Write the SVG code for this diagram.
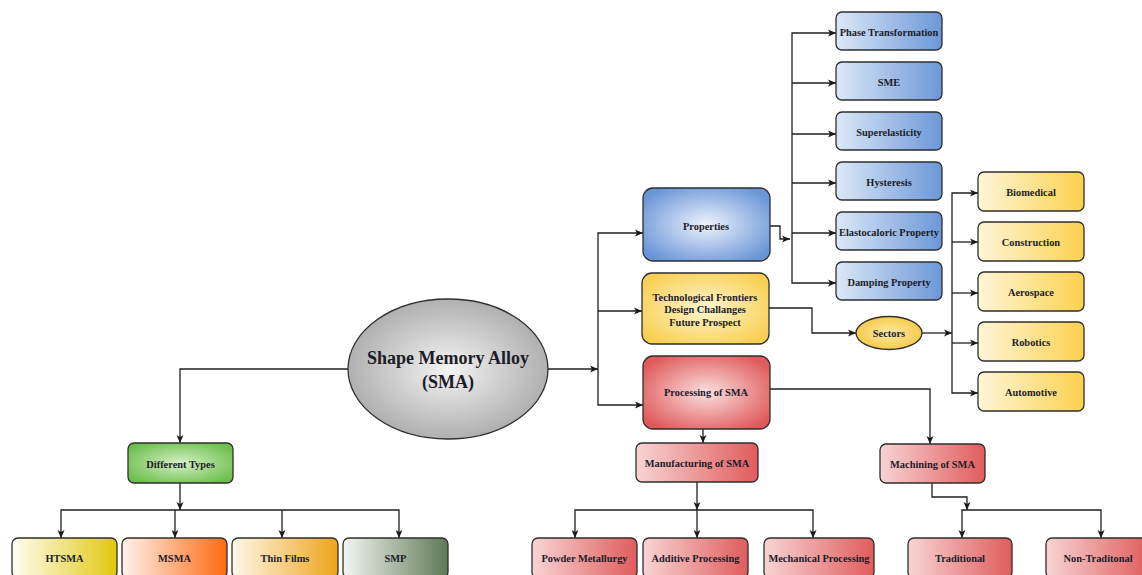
<svg xmlns="http://www.w3.org/2000/svg" width="1142" height="575" viewBox="0 0 1142 575">
<defs>
  <marker id="arr" markerUnits="userSpaceOnUse" markerWidth="9" markerHeight="8" refX="8" refY="4" orient="auto">
    <path d="M0,0.5 L8,4 L0,7.5 L2,4 z" fill="#1a1a1a"/>
  </marker>
  <radialGradient id="gSMA" cx="0.5" cy="0.5" r="0.55">
    <stop offset="0" stop-color="#f4f4f4"/>
    <stop offset="1" stop-color="#a9a9a9"/>
  </radialGradient>
  <radialGradient id="gProp" cx="0.5" cy="0.5" r="0.6">
    <stop offset="0" stop-color="#eef3fc"/>
    <stop offset="1" stop-color="#6a95d8"/>
  </radialGradient>
  <radialGradient id="gTech" cx="0.5" cy="0.5" r="0.6">
    <stop offset="0" stop-color="#fff6cf"/>
    <stop offset="1" stop-color="#f8cf52"/>
  </radialGradient>
  <radialGradient id="gProc" cx="0.5" cy="0.5" r="0.6">
    <stop offset="0" stop-color="#fbe0e0"/>
    <stop offset="1" stop-color="#e05a5a"/>
  </radialGradient>
  <radialGradient id="gSect" cx="0.5" cy="0.5" r="0.6">
    <stop offset="0" stop-color="#fde9a4"/>
    <stop offset="1" stop-color="#f5c53c"/>
  </radialGradient>
  <radialGradient id="gDT" cx="0.5" cy="0.5" r="0.6">
    <stop offset="0" stop-color="#d6f0c6"/>
    <stop offset="1" stop-color="#6cbf4c"/>
  </radialGradient>
  <linearGradient id="gBlue" x1="0" y1="0" x2="1" y2="0">
    <stop offset="0" stop-color="#dce8f8"/>
    <stop offset="1" stop-color="#6c97d8"/>
  </linearGradient>
  <linearGradient id="gYel" x1="0" y1="0" x2="1" y2="0">
    <stop offset="0" stop-color="#fff6d8"/>
    <stop offset="1" stop-color="#fbd14e"/>
  </linearGradient>
  <linearGradient id="gRed" x1="0" y1="0" x2="1" y2="0">
    <stop offset="0" stop-color="#f8d4d4"/>
    <stop offset="1" stop-color="#e05c5c"/>
  </linearGradient>
  <linearGradient id="gHT" x1="0" y1="0" x2="1" y2="0">
    <stop offset="0" stop-color="#fffef4"/>
    <stop offset="1" stop-color="#e2c70c"/>
  </linearGradient>
  <linearGradient id="gMS" x1="0" y1="0" x2="1" y2="0">
    <stop offset="0" stop-color="#fff3ec"/>
    <stop offset="1" stop-color="#fc6a10"/>
  </linearGradient>
  <linearGradient id="gTF" x1="0" y1="0" x2="1" y2="0">
    <stop offset="0" stop-color="#fff8ec"/>
    <stop offset="1" stop-color="#eea418"/>
  </linearGradient>
  <linearGradient id="gSMP" x1="0" y1="0" x2="1" y2="0">
    <stop offset="0" stop-color="#f4f6f2"/>
    <stop offset="1" stop-color="#5d7a55"/>
  </linearGradient>
</defs>
<style>
  .box { stroke: #2e2e2e; stroke-width: 1.3; }
  .con { fill: none; stroke: #1f1f1f; stroke-width: 1.3; }
  .t { font-family: "Liberation Serif", "Times New Roman", serif; font-weight: bold; font-size: 10.4px; fill: #1c1c28; text-anchor: middle; dominant-baseline: central; }
  .big { font-size: 18px; }
</style>
<rect width="1142" height="575" fill="#ffffff"/>

<g id="connectors">
  <path class="con" d="M548,369 H598" marker-end="url(#arr)"/>
  <path class="con" d="M598,369 V233 H643" marker-end="url(#arr)"/>
  <path class="con" d="M598,369 V405 H643" marker-end="url(#arr)"/>
  <path class="con" d="M598,311 H642" marker-end="url(#arr)"/>

  <path class="con" d="M770,226 H780 V239 H790" marker-end="url(#arr)"/>
  <path class="con" d="M792,239 V33 H836" marker-end="url(#arr)"/>
  <path class="con" d="M792,239 V283 H836" marker-end="url(#arr)"/>
  <path class="con" d="M792,83 H836" marker-end="url(#arr)"/>
  <path class="con" d="M792,134 H836" marker-end="url(#arr)"/>
  <path class="con" d="M792,183 H836" marker-end="url(#arr)"/>
  <path class="con" d="M792,233 H836" marker-end="url(#arr)"/>

  <path class="con" d="M769,308 H812 V333 H856" marker-end="url(#arr)"/>
  <path class="con" d="M922,333 H952" marker-end="url(#arr)"/>
  <path class="con" d="M952,333 V193 H978" marker-end="url(#arr)"/>
  <path class="con" d="M952,333 V393 H978" marker-end="url(#arr)"/>
  <path class="con" d="M952,242 H978" marker-end="url(#arr)"/>
  <path class="con" d="M952,293 H978" marker-end="url(#arr)"/>
  <path class="con" d="M952,343 H978" marker-end="url(#arr)"/>

  <path class="con" d="M770,389 H930 V444" marker-end="url(#arr)"/>
  <path class="con" d="M703,429 V443" marker-end="url(#arr)"/>

  <path class="con" d="M348,369 H180 V443" marker-end="url(#arr)"/>
  <path class="con" d="M180,483 V510" marker-end="url(#arr)"/>
  <path class="con" d="M180,510 H61 V538" marker-end="url(#arr)"/>
  <path class="con" d="M180,510 H399 V538" marker-end="url(#arr)"/>
  <path class="con" d="M175,510 V538" marker-end="url(#arr)"/>
  <path class="con" d="M282,510 V538" marker-end="url(#arr)"/>

  <path class="con" d="M697,482 V510" marker-end="url(#arr)"/>
  <path class="con" d="M697,510 H575 V538" marker-end="url(#arr)"/>
  <path class="con" d="M697,510 H813 V538" marker-end="url(#arr)"/>
  <path class="con" d="M697,510 V538" marker-end="url(#arr)"/>

  <path class="con" d="M932,483 V497 H967 V510" marker-end="url(#arr)"/>
  <path class="con" d="M967,510 H962 V538" marker-end="url(#arr)"/>
  <path class="con" d="M967,510 H1101 V538" marker-end="url(#arr)"/>
</g>

<g id="sma">
  <ellipse class="box" cx="448" cy="369" rx="100" ry="70" fill="url(#gSMA)"/>
  <text class="t big" x="448" y="358">Shape Memory Alloy</text>
  <text class="t big" x="448" y="382">(SMA)</text>
</g>

<g id="properties">
  <rect class="box" x="643" y="188" width="127" height="73" rx="10" fill="url(#gProp)"/>
  <text class="t" x="706" y="226">Properties</text>
</g>
<g id="tech">
  <rect class="box" x="642" y="273" width="127" height="71" rx="10" fill="url(#gTech)"/>
  <text class="t" x="705" y="297">Technological Frontiers</text>
  <text class="t" x="705" y="309.5">Design Challanges</text>
  <text class="t" x="705" y="322">Future Prospect</text>
</g>
<g id="processing">
  <rect class="box" x="643" y="356" width="127" height="73" rx="10" fill="url(#gProc)"/>
  <text class="t" x="706" y="392">Processing of SMA</text>
</g>

<g id="phase"><rect class="box" x="836" y="12" width="106" height="38" rx="6" fill="url(#gBlue)"/><text class="t" x="889" y="32">Phase Transformation</text></g>
<g id="sme"><rect class="box" x="836" y="62" width="106" height="38" rx="6" fill="url(#gBlue)"/><text class="t" x="889" y="82">SME</text></g>
<g id="superelasticity"><rect class="box" x="836" y="112" width="106" height="38" rx="6" fill="url(#gBlue)"/><text class="t" x="889" y="132">Superelasticity</text></g>
<g id="hysteresis"><rect class="box" x="836" y="162" width="106" height="38" rx="6" fill="url(#gBlue)"/><text class="t" x="889" y="182">Hysteresis</text></g>
<g id="elastocaloric"><rect class="box" x="836" y="212" width="106" height="38" rx="6" fill="url(#gBlue)"/><text class="t" x="889" y="232">Elastocaloric Property</text></g>
<g id="damping"><rect class="box" x="836" y="262" width="106" height="38" rx="6" fill="url(#gBlue)"/><text class="t" x="889" y="282">Damping Property</text></g>

<g id="sectors">
  <ellipse class="box" cx="889" cy="333" rx="33" ry="16.5" fill="url(#gSect)"/>
  <text class="t" x="889" y="333">Sectors</text>
</g>

<g id="biomedical"><rect class="box" x="978" y="172" width="106" height="39" rx="6" fill="url(#gYel)"/><text class="t" x="1031" y="192">Biomedical</text></g>
<g id="construction"><rect class="box" x="978" y="222" width="106" height="39" rx="6" fill="url(#gYel)"/><text class="t" x="1031" y="242">Construction</text></g>
<g id="aerospace"><rect class="box" x="978" y="272" width="106" height="39" rx="6" fill="url(#gYel)"/><text class="t" x="1031" y="292">Aerospace</text></g>
<g id="robotics"><rect class="box" x="978" y="322" width="106" height="39" rx="6" fill="url(#gYel)"/><text class="t" x="1031" y="342">Robotics</text></g>
<g id="automotive"><rect class="box" x="978" y="372" width="106" height="39" rx="6" fill="url(#gYel)"/><text class="t" x="1031" y="392">Automotive</text></g>

<g id="different-types">
  <rect class="box" x="128" y="443" width="105" height="40" rx="6" fill="url(#gDT)"/>
  <text class="t" x="180.5" y="464">Different Types</text>
</g>
<g id="htsma"><rect class="box" x="12" y="538" width="105" height="40" rx="6" fill="url(#gHT)"/><text class="t" x="64.5" y="558">HTSMA</text></g>
<g id="msma"><rect class="box" x="122" y="538" width="105" height="40" rx="6" fill="url(#gMS)"/><text class="t" x="174.5" y="558">MSMA</text></g>
<g id="thin-films"><rect class="box" x="232" y="538" width="106" height="40" rx="6" fill="url(#gTF)"/><text class="t" x="285" y="558">Thin Films</text></g>
<g id="smp"><rect class="box" x="343" y="538" width="105" height="40" rx="6" fill="url(#gSMP)"/><text class="t" x="395.5" y="558">SMP</text></g>

<g id="manufacturing">
  <rect class="box" x="636" y="443" width="122" height="39" rx="6" fill="url(#gRed)"/>
  <text class="t" x="697" y="463">Manufacturing of SMA</text>
</g>
<g id="machining">
  <rect class="box" x="880" y="444" width="105" height="39" rx="6" fill="url(#gRed)"/>
  <text class="t" x="932.5" y="464">Machining of SMA</text>
</g>
<g id="powder"><rect class="box" x="532" y="538" width="105" height="40" rx="6" fill="url(#gRed)"/><text class="t" x="584.5" y="558">Powder Metallurgy</text></g>
<g id="additive"><rect class="box" x="643" y="538" width="105" height="40" rx="6" fill="url(#gRed)"/><text class="t" x="695.5" y="558">Additive Processing</text></g>
<g id="mechanical"><rect class="box" x="764" y="538" width="110" height="40" rx="6" fill="url(#gRed)"/><text class="t" x="819" y="558">Mechanical Processing</text></g>
<g id="traditional"><rect class="box" x="908" y="538" width="104" height="40" rx="6" fill="url(#gRed)"/><text class="t" x="960" y="558">Traditional</text></g>
<g id="non-traditional"><rect class="box" x="1046" y="538" width="104" height="40" rx="6" fill="url(#gRed)"/><text class="t" x="1098" y="558">Non-Traditonal</text></g>
</svg>
